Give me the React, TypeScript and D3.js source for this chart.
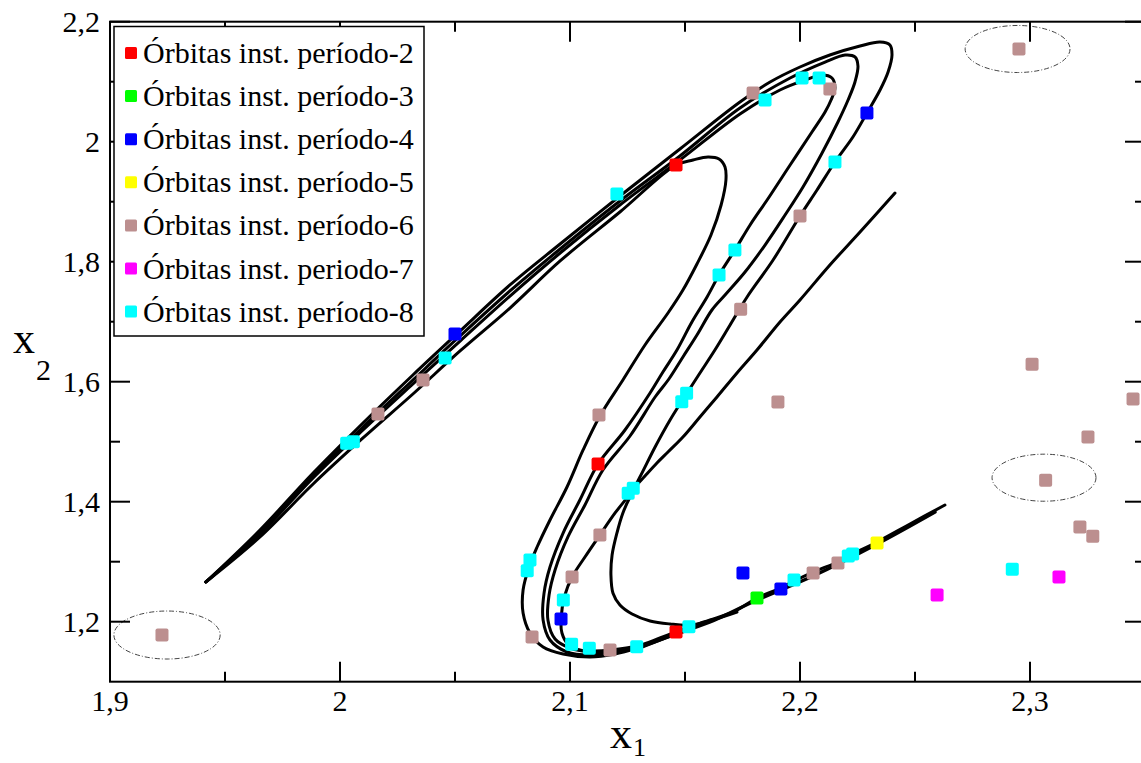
import React from 'react';
import * as d3 from 'd3';

// ---------- axis definitions ----------
const xDomain = [1.9, 2.35];
const yDomain = [1.1, 2.2];
const xMajorTicks = [1.9, 2.0, 2.1, 2.2, 2.3];
const xMinorTicks = [1.95, 2.05, 2.15, 2.25];
const yMajorTicks = [1.2, 1.4, 1.6, 1.8, 2.0, 2.2];
const yMinorTicks = [1.3, 1.5, 1.7, 1.9, 2.1];

// ---------- legend ----------
const legendLabels = [
  'Órbitas inst. período-2',
  'Órbitas inst. período-3',
  'Órbitas inst. período-4',
  'Órbitas inst. período-5',
  'Órbitas inst. período-6',
  'Órbitas inst. periodo-7',
  'Órbitas inst. período-8',
];
const seriesColors = ['#ff0000', '#00ff00', '#0000ff', '#ffff00', '#bc8f8f', '#ff00ff', '#00ffff'];

// ---------- unstable periodic orbit points ----------
const period2 = [[2.1461, 1.9612], [2.1122, 1.4628], [2.1461, 1.1828]];
const period3 = [[2.1813, 1.2395]];
const period4 = [[2.05, 1.6795], [2.2291, 2.0478], [2.0961, 1.2045], [2.1752, 1.2812], [2.1917, 1.2545]];
const period5 = [[2.2335, 1.3312]];
const period6 = [
  [1.9226, 1.1778], [2.2952, 2.1545], [2.3068, 1.4357], [2.3009, 1.629], [2.3448, 1.5712],
  [2.3252, 1.5078], [2.3217, 1.3578], [2.3273, 1.3423], [2.1904, 1.5662], [2.1742, 1.7207],
  [2.2, 1.8762], [2.1796, 2.0812], [2.213, 2.0878], [2.0361, 1.6028], [2.0165, 1.5462],
  [2.1126, 1.5445], [2.113, 1.3445], [2.1009, 1.2745], [2.0835, 1.1745], [2.1174, 1.1528],
  [2.2057, 1.2812], [2.2165, 1.2978],
];
const period7 = [[2.2596, 1.2445], [2.3126, 1.2745]];
const period8 = [
  [2.1204, 1.9128], [2.2009, 2.1062], [2.2083, 2.1062], [2.1848, 2.0695], [2.2152, 1.9662],
  [2.1717, 1.8195], [2.1648, 1.7778], [2.0457, 1.6395], [2.0029, 1.4973], [2.0058, 1.5],
  [2.1507, 1.5807], [2.1486, 1.5667], [2.1275, 1.4223], [2.1253, 1.414], [2.0826, 1.3028],
  [2.0814, 1.285], [2.0971, 1.2362], [2.1007, 1.1623], [2.1084, 1.1557], [2.129, 1.1583],
  [2.1517, 1.1917], [2.1974, 1.2695], [2.221, 1.3095], [2.2229, 1.3128], [2.2923, 1.2873],
];
const orbitSeries = [period2, period3, period4, period5, period6, period7, period8];

// ---------- attractor strands (traced) ----------
const strandOuter = [
  [1.9417, 1.2662], [1.9652, 1.3528], [1.9883, 1.4478], [2.01, 1.5312], [2.0317, 1.6112],
  [2.0522, 1.6845], [2.0739, 1.7612], [2.0957, 1.8295], [2.1217, 1.9095], [2.1478, 1.9878],
  [2.1739, 2.0662], [2.187, 2.0995], [2.2, 2.1245], [2.213, 2.1445], [2.2261, 2.1595],
  [2.2348, 2.1662], [2.2391, 2.1612], [2.24, 2.1445], [2.2383, 2.1162], [2.2348, 2.0862],
  [2.2291, 2.0478], [2.223, 2.0078], [2.2152, 1.9662], [2.2074, 1.9195], [2.2, 1.8762],
  [2.1883, 1.8028], [2.177, 1.7412], [2.1696, 1.6945], [2.163, 1.6528], [2.1565, 1.6145],
  [2.1509, 1.5812], [2.1435, 1.5362], [2.137, 1.4912], [2.1304, 1.4412], [2.127, 1.4178],
  [2.1196, 1.3812], [2.113, 1.3445], [2.1065, 1.3078], [2.1009, 1.2745], [2.0978, 1.2445],
  [2.0961, 1.2045], [2.0965, 1.1812], [2.0991, 1.1628], [2.1043, 1.1528], [2.1109, 1.1512],
  [2.1174, 1.1528], [2.1291, 1.1595], [2.1391, 1.1728], [2.1461, 1.1828], [2.1517, 1.1912],
  [2.1609, 1.2028], [2.1717, 1.2178], [2.1813, 1.2395], [2.1917, 1.2562], [2.1974, 1.2678],
  [2.2057, 1.2828], [2.2165, 1.2995], [2.223, 1.3128], [2.2335, 1.3328], [2.2478, 1.3628],
  [2.263, 1.3945],
];
const strandSecondFold = [
  [1.9417, 1.2662], [1.9652, 1.3495], [1.9883, 1.4428], [2.01, 1.5245], [2.0317, 1.6028],
  [2.0522, 1.6762], [2.0739, 1.7512], [2.0957, 1.8212], [2.1217, 1.9012], [2.1478, 1.9762],
  [2.1739, 2.0562], [2.1957, 2.1062], [2.2109, 2.1328], [2.2196, 2.1445], [2.2239, 2.1412],
  [2.2252, 2.1262], [2.2239, 2.0995], [2.2209, 2.0695], [2.2165, 2.0328], [2.2096, 1.9812],
  [2.2013, 1.9245], [2.1935, 1.8778], [2.1848, 1.8278], [2.1761, 1.7828], [2.1674, 1.7445],
  [2.1617, 1.7195], [2.1552, 1.6778], [2.1491, 1.6412], [2.143, 1.6045], [2.137, 1.5745],
  [2.1261, 1.5095], [2.1143, 1.4528], [2.1065, 1.3945], [2.0991, 1.3412], [2.0935, 1.2862],
  [2.0909, 1.2445], [2.0904, 1.2028], [2.0935, 1.1712], [2.1, 1.1562], [2.1096, 1.1495],
  [2.1196, 1.1512],
];
const strandThirdFold = [
  [1.9417, 1.2662], [1.9652, 1.3462], [1.9883, 1.4395], [2.01, 1.5195], [2.0317, 1.5962],
  [2.0522, 1.6678], [2.0739, 1.7428], [2.0957, 1.8145], [2.1217, 1.8945], [2.1478, 1.9695],
  [2.1739, 2.0462], [2.1913, 2.0862], [2.2022, 2.1028], [2.2096, 2.1112], [2.2139, 2.1062],
  [2.2152, 2.0895], [2.2135, 2.0695], [2.2109, 2.0495], [2.2052, 2.0162], [2.1957, 1.9612],
  [2.1857, 1.9028], [2.1783, 1.8612], [2.1717, 1.8195], [2.1648, 1.7778], [2.1596, 1.7412],
  [2.153, 1.6995], [2.1465, 1.6528], [2.1404, 1.6162], [2.1348, 1.5812], [2.1239, 1.5195],
  [2.1122, 1.4628], [2.1043, 1.4028], [2.097, 1.3478], [2.0913, 1.2912], [2.0887, 1.2473],
  [2.0883, 1.2028], [2.0913, 1.1695], [2.0987, 1.1495], [2.1087, 1.1445], [2.1196, 1.1495],
  [2.1291, 1.1578],
];
const strandInnerHook = [
  [1.9417, 1.2662], [1.9652, 1.3412], [1.9883, 1.4295], [2.01, 1.5062], [2.0317, 1.5795],
  [2.0522, 1.6512], [2.0739, 1.7228], [2.0957, 1.8012], [2.1217, 1.8828], [2.1461, 1.9612],
  [2.1535, 1.9695], [2.16, 1.9745], [2.1648, 1.9712], [2.1674, 1.9578], [2.1678, 1.9362],
  [2.1657, 1.8945], [2.1613, 1.8445], [2.1552, 1.7962], [2.1491, 1.7528], [2.1426, 1.7145],
  [2.1326, 1.6612], [2.123, 1.6028], [2.113, 1.5428], [2.1057, 1.4862], [2.0987, 1.4245],
  [2.0913, 1.3695], [2.0857, 1.3245], [2.0822, 1.2912], [2.0796, 1.2528], [2.0796, 1.2145],
  [2.0826, 1.1812], [2.0883, 1.1578], [2.097, 1.1462], [2.1087, 1.1412], [2.1196, 1.1462],
  [2.1291, 1.1562], [2.1391, 1.1695], [2.1478, 1.1828],
];
const strandDiagonal = [
  [2.2413, 1.9145], [2.2261, 1.8495], [2.213, 1.7945], [2.2, 1.7362], [2.1913, 1.6995],
  [2.1813, 1.6528], [2.1726, 1.6145], [2.1639, 1.5745], [2.1565, 1.5412], [2.1491, 1.5078],
  [2.1426, 1.4828], [2.1378, 1.4645], [2.1326, 1.4428], [2.1291, 1.4278], [2.1261, 1.4078],
  [2.123, 1.3812], [2.1204, 1.3478], [2.1183, 1.3112], [2.1178, 1.2778], [2.1187, 1.2473],
  [2.1217, 1.2278], [2.127, 1.2128], [2.1348, 1.2012], [2.1435, 1.1962], [2.1522, 1.1945],
  [2.1617, 1.2028], [2.1726, 1.2162],
];
const strandTail = [
  [2.1291, 1.1545], [2.1461, 1.1795], [2.1609, 1.1995], [2.1813, 1.2362], [2.2057, 1.2762],
  [2.2335, 1.3295], [2.2587, 1.3828],
];
const attractorStrands = [strandOuter, strandSecondFold, strandThirdFold, strandInnerHook, strandDiagonal, strandTail];

// ---------- highlight ellipses (data units) ----------
const ellipseCx = [1.9248, 2.2946, 2.3061];
const ellipseCy = [1.1778, 2.1545, 1.44];
const ellipseRx = [0.0231, 0.0228, 0.0226];
const ellipseRy = [0.04, 0.0392, 0.0392];

// ---------- layout ----------
const W = 1141;
const H = 763;
const plotLeft = 110;
const plotRight = 1145;
const plotTop = 21.7;
const plotBottom = 681.7;
const FONT = '"Liberation Serif", "DejaVu Serif", "Times New Roman", Times, serif';

const locale = d3.formatLocale({ decimal: ',', thousands: '.', grouping: [3], currency: ['', ''] });
const fmt = locale.format('.1~f');

export default function App() {
  const x = d3.scaleLinear().domain(xDomain).range([plotLeft, plotRight]);
  const y = d3.scaleLinear().domain(yDomain).range([plotBottom, plotTop]);
  const line = d3
    .line<number[]>()
    .x((d) => x(d[0]))
    .y((d) => y(d[1]))
    .curve(d3.curveCatmullRom.alpha(0.5));

  const majorLen = 20;
  const minorLen = 10;
  const ms = 13;
  const txt = { fontFamily: FONT };

  return (
    <svg
      width={W}
      height={H}
      style={{ position: 'absolute', left: 0, top: 0, display: 'block', background: '#fff', fontFamily: FONT }}
    >
      <rect x={0} y={0} width={W} height={H} fill="#fff" />

      {/* attractor */}
      <g fill="none" stroke="#000" strokeLinecap="round" strokeLinejoin="round">
        {attractorStrands.map((s, i) => (
          <path key={i} d={line(s) || ''} strokeWidth={i === 5 ? 3.4 : 3} />
        ))}
      </g>

      {/* orbit markers */}
      <g>
        {orbitSeries.map((pts, si) =>
          pts.map((p, j) => (
            <rect
              key={si + '-' + j}
              x={x(p[0]) - ms / 2}
              y={y(p[1]) - ms / 2}
              width={ms}
              height={ms}
              rx={2}
              fill={seriesColors[si]}
            />
          ))
        )}
      </g>

      {/* ellipses */}
      <g fill="none" stroke="#444" strokeWidth={1} strokeDasharray="5,2,1,2">
        {ellipseCx.map((cx, i) => (
          <ellipse
            key={i}
            cx={x(cx)}
            cy={y(ellipseCy[i])}
            rx={x(cx + ellipseRx[i]) - x(cx)}
            ry={y(ellipseCy[i]) - y(ellipseCy[i] + ellipseRy[i])}
          />
        ))}
      </g>

      {/* frame */}
      <rect
        x={plotLeft}
        y={plotTop}
        width={plotRight - plotLeft}
        height={plotBottom - plotTop}
        fill="none"
        stroke="#000"
        strokeWidth={2}
      />

      {/* ticks */}
      <g stroke="#000" strokeWidth={2}>
        {xMajorTicks.map((t) => (
          <g key={'xM' + t}>
            <line x1={x(t)} x2={x(t)} y1={plotBottom} y2={plotBottom - majorLen} />
            <line x1={x(t)} x2={x(t)} y1={plotTop} y2={plotTop + majorLen} />
          </g>
        ))}
        {xMinorTicks.map((t) => (
          <g key={'xm' + t}>
            <line x1={x(t)} x2={x(t)} y1={plotBottom} y2={plotBottom - minorLen} />
            <line x1={x(t)} x2={x(t)} y1={plotTop} y2={plotTop + minorLen} />
          </g>
        ))}
        {yMajorTicks.map((t) => (
          <g key={'yM' + t}>
            <line x1={plotLeft} x2={plotLeft + majorLen} y1={y(t)} y2={y(t)} />
            <line x1={plotRight} x2={plotRight - majorLen} y1={y(t)} y2={y(t)} />
          </g>
        ))}
        {yMinorTicks.map((t) => (
          <g key={'ym' + t}>
            <line x1={plotLeft} x2={plotLeft + minorLen} y1={y(t)} y2={y(t)} />
            <line x1={plotRight} x2={plotRight - minorLen} y1={y(t)} y2={y(t)} />
          </g>
        ))}
      </g>

      {/* tick labels */}
      <g fill="#000">
        {xMajorTicks.map((t) => (
          <text key={'xl' + t} x={x(t)} y={711} textAnchor="middle" fontSize={30} style={txt}>
            {fmt(t)}
          </text>
        ))}
        {yMajorTicks.map((t) => (
          <text key={'yl' + t} x={100} y={y(t) + 10} textAnchor="end" fontSize={30} style={txt}>
            {fmt(t)}
          </text>
        ))}
      </g>

      {/* axis titles */}
      <text x={610} y={748} fontSize={44} fill="#000" style={txt}>
        x
        <tspan fontSize={26} dx={1} dy={8}>
          1
        </tspan>
      </text>
      <text x={13} y={353} fontSize={44} fill="#000" style={txt}>
        x
        <tspan fontSize={30} dx={1} dy={27}>
          2
        </tspan>
      </text>

      {/* legend */}
      <rect x={114} y={26.5} width={310} height={309.5} fill="#fff" stroke="#000" strokeWidth={1.5} />
      {legendLabels.map((lab, i) => {
        const cy = 53 + i * 43.1;
        return (
          <g key={'lg' + i}>
            <rect x={125} y={cy - 6} width={12} height={12} rx={1.5} fill={seriesColors[i]} />
            <text x={143} y={cy + 10} fontSize={30} fill="#000" style={txt}>
              {lab}
            </text>
          </g>
        );
      })}
    </svg>
  );
}
